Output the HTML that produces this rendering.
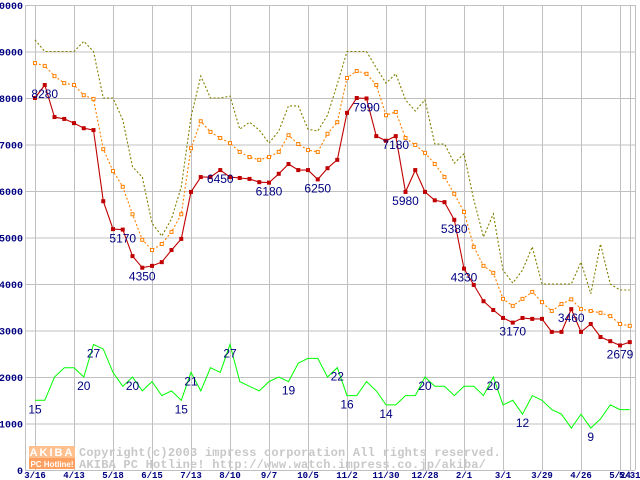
<!DOCTYPE html>
<html><head><meta charset="utf-8"><style>
html,body{margin:0;padding:0;background:#fff;}
svg{display:block;}
</style></head><body>
<svg id="chart" width="640" height="480" viewBox="0 0 640 480" xmlns="http://www.w3.org/2000/svg">
<g id="grid"></g>
<g id="axes"></g>
<g id="watermark">
  <rect x="29" y="446" width="46" height="12" fill="#ffc090"/>
  <text x="52" y="456" text-anchor="middle" font-family="Liberation Sans, sans-serif" font-weight="bold" font-size="11" fill="#fff" letter-spacing="2">AKIBA</text>
  <rect x="29" y="458" width="46" height="11" fill="#ffa060"/>
  <text x="52" y="467" text-anchor="middle" font-family="Liberation Sans, sans-serif" font-weight="bold" font-size="8" fill="#fff">PC Hotline!</text>
  <text x="79" y="456" font-family="Liberation Mono, monospace" font-weight="bold" font-size="12" fill="#c8c8c8" letter-spacing="0.2">Copyright(c)2003 impress corporation All rights reserved.</text>
  <text x="79" y="468" font-family="Liberation Mono, monospace" font-weight="bold" font-size="12" fill="#c8c8c8" letter-spacing="0.2">AKIBA PC Hotline!  http://www.watch.impress.co.jp/akiba/</text>
</g>
<g id="series"></g>
<g id="labels"></g>
</svg>
<script>
const yTicks = [0,1000,2000,3000,4000,5000,6000,7000,8000,9000,10000];
const xTickLabels = ["3/16","4/13","5/18","6/15","7/13","8/10","9/7","10/5","11/2","11/30","12/28","2/1","3/1","3/29","4/26","5/24","5/31"];
const xTickIdx = [0,4,8,12,16,20,24,28,32,36,40,44,48,52,56,60,61];
const redValues = [8000,8280,7590,7550,7460,7350,7310,5780,5180,5170,4600,4350,4390,4470,4730,4970,5980,6300,6300,6450,6300,6280,6260,6190,6180,6370,6580,6450,6450,6250,6490,6670,7680,8000,7990,7180,7080,7180,5980,6450,5980,5800,5760,5380,4330,3980,3630,3440,3270,3170,3270,3250,3250,2970,2970,3460,2970,3140,2860,2770,2679,2750];
const orangeValues = [8750,8690,8470,8320,8280,8060,7980,6900,6430,6090,5500,4950,4730,4860,5120,5500,6920,7500,7270,7140,7030,6840,6730,6670,6730,6840,7200,7010,6880,6840,7230,7480,8430,8580,8520,8280,7630,7700,7140,6990,6820,6580,6300,5940,5550,4800,4390,4240,3680,3530,3680,3830,3610,3420,3570,3670,3460,3420,3380,3310,3140,3100];
const oliveValues = [9250,9000,9000,9000,9000,9220,9000,8000,8000,7530,6520,6300,5310,5030,5400,6090,7590,8470,8000,8000,8040,7330,7480,7310,7030,7290,7830,7830,7330,7290,7630,8300,9000,9000,9000,8650,8320,8520,7960,7720,7960,7010,7010,6600,6800,5810,5010,5510,4300,4020,4300,4800,4000,4000,4000,4000,4470,3790,4860,4000,3870,3870];
const greenCounts = [15,15,20,22,22,20,27,26,21,18,20,17,19,16,17,15,21,17,22,21,27,19,18,17,19,20,19,23,24,24,20,22,16,16,19,17,14,14,16,16,20,18,18,16,18,18,16,20,14,15,12,16,15,13,12,9,12,9,11,14,13,13];
const redLabelIdx = [1,9,11,19,24,29,34,37,38,43,44,49,55,60];
const greenLabelIdx = [0,5,6,10,15,16,20,26,31,32,36,40,47,50,57];

const NS = "http://www.w3.org/2000/svg";
const X0 = 35, XSTEP = 9.75, Y0 = 470, YTOP = 5, YMAX = 10000;
const PL = 25, PR = 635;
function xs(i){ return X0 + i*XSTEP; }
function ys(v){ return Y0 - (v/YMAX)*(Y0-YTOP); }
function mk(tag, attrs, parent){ const e=document.createElementNS(NS,tag); for(const k in attrs) e.setAttribute(k,attrs[k]); parent.appendChild(e); return e; }

const grid = document.getElementById('grid');
const axes = document.getElementById('axes');
yTicks.forEach(v=>{
  const l = mk('line',{x1:PL,x2:PR,y1:ys(v)+0.5,y2:ys(v)+0.5,stroke:'#c0c0c0','stroke-width':1},grid);
  
  
  const t = mk('text',{x:23,y:ys(v)+4,'text-anchor':'end','font-family':'Liberation Mono, monospace','font-weight':'bold','font-size':'10',fill:'#000080'},axes);
  t.textContent = v;
  
  
});
xTickIdx.forEach((idx,k)=>{
  const l = mk('line',{x1:Math.round(xs(idx))+0.5,x2:Math.round(xs(idx))+0.5,y1:YTOP,y2:Y0,stroke:'#c0c0c0','stroke-width':1},grid);
  
  
  const t = mk('text',{x:xs(idx),y:478,'text-anchor':'middle','font-family':'Liberation Mono, monospace','font-weight':'bold','font-size':'9',fill:'#000080'},axes);
  t.textContent = xTickLabels[k];
  
  
});
const la = mk('line',{x1:PL+0.5,x2:PL+0.5,y1:YTOP,y2:Y0,stroke:'#c0c0c0'},grid);


const ra = mk('line',{x1:PR+0.5,x2:PR+0.5,y1:YTOP,y2:Y0,stroke:'#c0c0c0'},grid);



const series = document.getElementById('series');
function pts(vals, mult){ return vals.map((v,i)=>xs(i).toFixed(1)+','+ys(v*mult).toFixed(1)).join(' '); }

const oli = mk('polyline',{points:pts(oliveValues,1),fill:'none',stroke:'#808000','stroke-width':1.1,'stroke-dasharray':'2,2'},series);



const org = mk('polyline',{points:pts(orangeValues,1),fill:'none',stroke:'#ff8000','stroke-width':1.1,'stroke-dasharray':'2,2'},series);


orangeValues.forEach((v,i)=>{
  const r = mk('rect',{x:xs(i)-1.5,y:ys(v)-1.5,width:3,height:3,fill:'#fff',stroke:'#ff8000','stroke-width':1},series);
  
  
});

const grn = mk('polyline',{points:pts(greenCounts,100),fill:'none',stroke:'#00ff00','stroke-width':1},series);



const red = mk('polyline',{points:pts(redValues,1),fill:'none',stroke:'#c00000','stroke-width':1.1},series);


redValues.forEach((v,i)=>{
  const r = mk('rect',{x:xs(i)-2,y:ys(v)-2,width:4,height:4,fill:'#c00000'},series);
  
  
});

const labels = document.getElementById('labels');
function lab(i, v, txt){
  const t = mk('text',{x:xs(i),y:ys(v)+13,'text-anchor':'middle','font-family':'Liberation Sans, sans-serif','font-size':'12',fill:'#000080'},labels);
  t.textContent = txt;
  
  
}
redLabelIdx.forEach(i=>lab(i, redValues[i], String(redValues[i])));
greenLabelIdx.forEach(i=>lab(i, greenCounts[i]*100, String(greenCounts[i])));
</script>
</body></html>
